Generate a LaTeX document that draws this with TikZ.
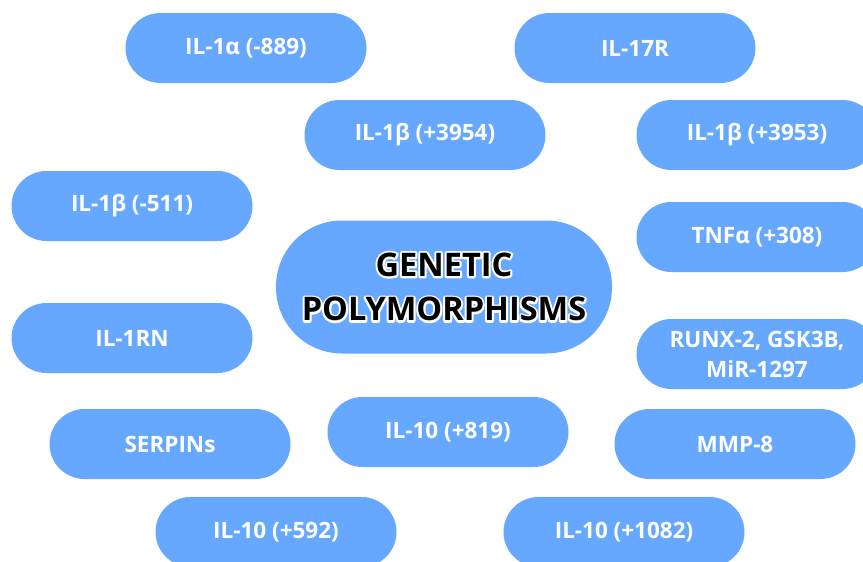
\documentclass[tikz,border=0pt]{standalone}
\usepackage{fontspec}
\setmainfont{Open Sans}
\definecolor{pill}{RGB}{102,168,255}
\newcommand\strokeon{\special{pdf:code q 1 Tr 1 1 1 RG 4 w 1 j 1 J}}
\newcommand\strokeoff{\special{pdf:code Q}}
\tikzset{
  pill/.style={fill=pill, draw=none, rounded corners=35pt, minimum width=241pt, minimum height=70pt,
    text=white, font=\bfseries\fontsize{22.5}{30}\selectfont, align=center, inner sep=0pt},
  bigpill/.style={fill=pill, draw=none, rounded corners=66pt, minimum width=336pt, minimum height=133pt, inner sep=0pt},
  title/.style={font=\bfseries\fontsize{32.5}{44.5}\selectfont, align=center, inner sep=0pt}
}
\begin{document}
\begin{tikzpicture}[x=1pt,y=-1pt]
\useasboundingbox (0,0) rectangle (863,562);
\node[pill] (a1) at (246,48) {IL-1α (-889)};
\node[pill] (a2) at (635,48) {IL-17R};
\node[pill] (a3) at (425,135) {IL-1β (+3954)};
\node[pill] (a4) at (757,135) {IL-1β (+3953)};
\node[pill] (a5) at (132,206) {IL-1β (-511)};
\node[pill] (a6) at (757,237) {TNFα (+308)};
\node[pill] (a7) at (132,338) {IL-1RN};
\node[pill] (a8) at (757,354) {RUNX-2, GSK3B,\\MiR-1297};
\node[pill] (a9) at (170,444) {SERPINs};
\node[pill] (a10) at (448,432) {IL-10 (+819)};
\node[pill] (a11) at (735,444) {MMP-8};
\node[pill] (a12) at (276,532) {IL-10 (+592)};
\node[pill] (a13) at (624,532) {IL-10 (+1082)};
\node[bigpill] (c) at (444,287) {};
\node[title, text=white] (halo) at (c) {\strokeon GENETIC\\POLYMORPHISMS\strokeoff};
\node[title, text=black] (ct) at (c) {GENETIC\\POLYMORPHISMS};
\end{tikzpicture}
\end{document}
